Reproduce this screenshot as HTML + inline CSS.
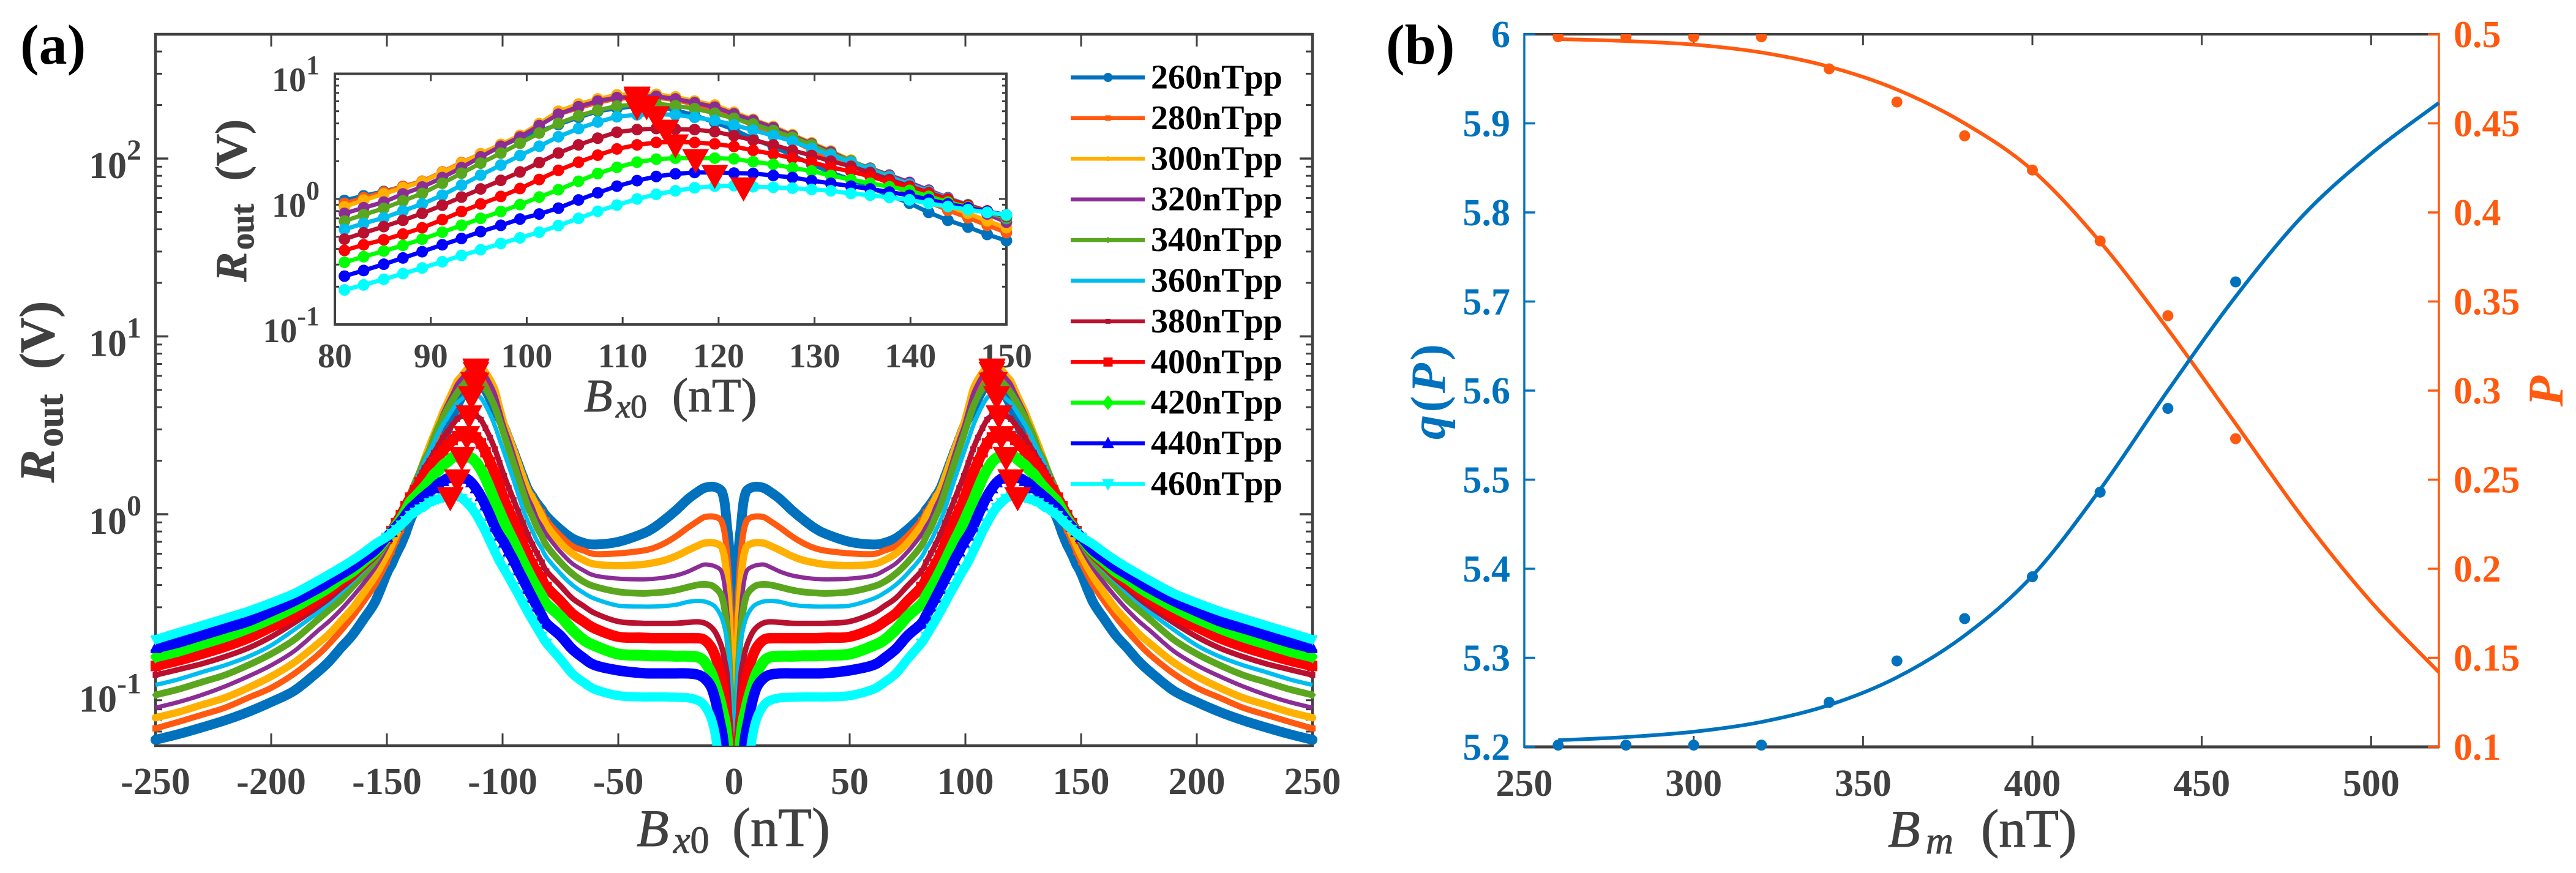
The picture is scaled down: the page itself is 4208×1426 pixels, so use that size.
<!DOCTYPE html>
<html lang="en">
<head>
<meta charset="utf-8">
<title>Rout versus Bx0 and q(P), P versus Bm</title>
<style>
html,body{margin:0;padding:0;background:#fff;width:4208px;height:1426px;overflow:hidden;}
svg{display:block;font-family:"Liberation Serif",serif;overflow:hidden;}
.tick{font-weight:bold;fill:#404040;}
.cm{fill:#404040;stroke:#404040;stroke-width:1;}
.it{font-style:italic;}
</style>
</head>
<body>
<svg id="fig" xmlns="http://www.w3.org/2000/svg" width="4208" height="1426" viewBox="0 0 4208 1426">
<defs>
<clipPath id="clipMain"><rect x="246" y="56" width="1906" height="1162"/></clipPath>
<clipPath id="clipTopB"><rect x="2480" y="56" width="1510" height="1180"/></clipPath>
</defs>
<rect width="4208" height="1426" fill="#fff"/>
<g id="layerAxes"></g>
<g id="layerInset"></g>
<g id="layerMain" clip-path="url(#clipMain)"></g>
<g id="layerPeaks"></g>
<g id="layerLegend"></g>
<g id="layerB"></g>

<text x="33" y="104" font-size="92" font-weight="bold" fill="#000">(a)</text>
<text x="2264" y="104" font-size="92" font-weight="bold" fill="#000">(b)</text>

<text transform="translate(88,788) rotate(-90)" class="cm" font-size="80" font-weight="bold"><tspan x="0" class="it">R</tspan><tspan x="58" dy="14" font-size="62">out</tspan><tspan x="185" dy="-14">(V)</tspan></text>
<text class="cm" y="1382" font-size="86"><tspan x="1040" class="it">B</tspan><tspan x="1100" dy="11" font-size="62" class="it">x</tspan><tspan dy="0" font-size="62">0</tspan><tspan x="1196" dy="-11" font-size="90">(nT)</tspan></text>

<text transform="translate(402,460) rotate(-90)" class="cm" font-size="72" font-weight="bold"><tspan x="0" class="it">R</tspan><tspan x="52" dy="12" font-size="54">out</tspan><tspan x="165" dy="-12">(V)</tspan></text>
<text class="cm" y="672" font-size="76"><tspan x="954" class="it">B</tspan><tspan x="1006" dy="10" font-size="54" class="it">x</tspan><tspan dy="0" font-size="54">0</tspan><tspan x="1098" dy="-10" font-size="78">(nT)</tspan></text>

<text class="cm" y="1383" font-size="86"><tspan x="3084" class="it">B</tspan><tspan x="3146" dy="11" font-size="62" class="it">m</tspan><tspan x="3236" dy="-11" font-size="88">(nT)</tspan></text>
<text transform="translate(2360,718) rotate(-90)" fill="#0072BD" font-size="80" font-weight="bold" textLength="156"><tspan class="it">q</tspan>(<tspan class="it">P</tspan>)</text>
<text transform="translate(4186,664) rotate(-90)" fill="#FF5A0F" font-size="82" font-weight="bold" class="it">P</text>
</svg>

<script>
// ---------- Panel (a) data: log10 of Rout (V), positive half of the B axis ----------
const xGridNT = [0,1,2,3,4,5,6,8,10,13,16,20,25,30,35,40,50,60,65,70,75,
81,83,85.1,87.1,89.1,91.2,93.2,95.2,97.3,99.3,101.3,103.3,105.4,107.4,109.4,111.5,113.5,115.5,117.5,119.6,121.6,123.6,125.7,127.7,129.7,131.7,133.8,135.8,137.8,139.9,141.9,143.9,146,148,150,
155,160,165,170,175,180,190,200,210,220,230,240,250];
const logR260 = [-2.705,-.506,-.203,-.068,.060,.119,.139,.152,.155,.147,.123,.084,.023,-.031,-.079,-.112,-.155,-.170,-.161,-.135,-.086,
-.012,.025,.06,.1,.141,.21,.28,.35,.42,.488,.54,.593,.650,.699,.723,.740,.740,.707,.667,.610,.553,.480,.415,.349,.276,.211,.154,.09,.03,-.034,-.107,-.17,-.224,-.283,-.332,
-.490,-.589,-.681,-.753,-.828,-.888,-.992,-1.056,-1.112,-1.159,-1.199,-1.236,-1.268];
const logR280 = [-2.8,-.729,-.410,-.219,-.108,-.052,-.028,-.015,-.012,-.017,-.041,-.076,-.124,-.163,-.191,-.206,-.220,-.224,-.204,-.178,-.121,
-.035,.01,.055,.1,.141,.215,.29,.36,.43,.502,.59,.675,.723,.769,.797,.808,.808,.788,.753,.707,.650,.585,.520,.463,.390,.325,.268,.2,.12,.044,-.025,-.09,-.15,-.21,-.268,
-.394,-.490,-.578,-.657,-.729,-.793,-.896,-.976,-1.032,-1.088,-1.128,-1.167,-1.204];
const logR300 = [-2.9,-.920,-.586,-.379,-.251,-.195,-.175,-.163,-.159,-.163,-.179,-.203,-.235,-.259,-.273,-.283,-.289,-.281,-.258,-.220,-.161,
-.062,-.01,.04,.09,.137,.21,.285,.36,.435,.507,.6,.699,.756,.797,.829,.834,.834,.813,.780,.748,.691,.634,.577,.512,.447,.382,.309,.235,.155,.078,.01,-.055,-.115,-.175,-.229,
-.347,-.442,-.530,-.602,-.673,-.729,-.833,-.912,-.976,-1.032,-1.072,-1.112,-1.144];
const logR320 = [-3,-1.048,-.729,-.538,-.410,-.339,-.310,-.294,-.286,-.283,-.299,-.323,-.344,-.356,-.363,-.366,-.362,-.345,-.316,-.276,-.212,
-.115,-.07,-.025,.04,.095,.17,.25,.335,.42,.493,.585,.675,.735,.780,.808,.813,.818,.797,.767,.732,.678,.626,.569,.504,.439,.374,.301,.245,.19,.132,.07,.01,-.05,-.12,-.185,
-.299,-.387,-.466,-.538,-.602,-.657,-.769,-.849,-.912,-.968,-1.016,-1.056,-1.088];
const logR340 = [-3,-1.128,-.841,-.649,-.538,-.474,-.442,-.414,-.399,-.394,-.398,-.410,-.426,-.437,-.442,-.445,-.436,-.407,-.379,-.333,-.270,
-.176,-.125,-.075,-.015,.044,.125,.205,.285,.365,.444,.525,.602,.662,.707,.740,.753,.759,.743,.720,.683,.642,.597,.545,.493,.431,.358,.304,.24,.18,.117,.06,0,-.05,-.105,-.156,
-.259,-.339,-.410,-.482,-.538,-.594,-.705,-.785,-.849,-.904,-.944,-.984,-1.016];
const logR360 = [-3,-1.112,-.809,-.713,-.641,-.594,-.562,-.522,-.503,-.490,-.487,-.493,-.509,-.516,-.519,-.519,-.514,-.476,-.442,-.396,-.333,
-.242,-.195,-.15,-.095,-.04,.03,.11,.19,.27,.346,.42,.496,.561,.613,.655,.671,.675,.671,.650,.626,.590,.548,.505,.460,.402,.349,.293,.235,.175,.117,.06,.005,-.045,-.098,-.146,
-.243,-.315,-.379,-.442,-.498,-.554,-.649,-.737,-.801,-.849,-.888,-.928,-.960];
const logR380 = [-3,-1.303,-1.112,-.904,-.825,-.761,-.721,-.665,-.633,-.610,-.605,-.608,-.613,-.614,-.614,-.613,-.603,-.557,-.516,-.471,-.402,
-.32,-.27,-.22,-.17,-.115,-.05,.015,.08,.148,.215,.29,.366,.431,.484,.532,.553,.561,.556,.553,.536,.504,.468,.431,.387,.346,.301,.260,.21,.155,.102,.05,0,-.05,-.097,-.141,
-.227,-.299,-.363,-.418,-.474,-.522,-.610,-.689,-.753,-.801,-.841,-.873,-.904];
const logR400 = [-3.1,-1.398,-1.303,-1.143,-1.032,-.952,-.888,-.801,-.745,-.705,-.697,-.697,-.697,-.697,-.697,-.694,-.689,-.643,-.603,-.557,-.488,
-.41,-.365,-.325,-.28,-.23,-.165,-.10,-.04,.02,.083,.155,.228,.293,.349,.398,.431,.450,.455,.450,.439,.418,.387,.358,.325,.293,.252,.219,.18,.135,.093,.045,-.005,-.05,-.095,-.137,
-.219,-.283,-.339,-.387,-.434,-.482,-.570,-.634,-.697,-.745,-.785,-.822,-.853];
const logR420 = [-3.1,-1.669,-1.398,-1.255,-1.159,-1.104,-1.048,-.960,-.888,-.825,-.802,-.798,-.798,-.796,-.796,-.793,-.786,-.740,-.706,-.648,-.574,
-.505,-.46,-.415,-.37,-.32,-.265,-.21,-.155,-.10,-.045,.015,.073,.141,.203,.252,.293,.317,.325,.325,.325,.320,.297,.276,.247,.223,.187,.154,.125,.097,.068,.02,-.025,-.065,-.1,-.132,
-.211,-.267,-.323,-.363,-.410,-.450,-.522,-.586,-.641,-.689,-.729,-.769,-.801];
const logR440 = [-3.2,-1.908,-1.669,-1.478,-1.351,-1.239,-1.175,-1.048,-.968,-.920,-.901,-.895,-.895,-.895,-.895,-.893,-.878,-.849,-.809,-.757,-.683,
-.615,-.57,-.52,-.47,-.42,-.365,-.315,-.26,-.21,-.16,-.12,-.073,-.008,.049,.102,.146,.179,.200,.211,.211,.206,.203,.187,.171,.146,.125,.102,.08,.055,.029,-.005,-.04,-.07,-.1,-.127,
-.200,-.251,-.299,-.339,-.379,-.418,-.487,-.546,-.602,-.641,-.681,-.721,-.753];
const logR460 = [-3.3,-2.227,-1.988,-1.781,-1.622,-1.526,-1.430,-1.247,-1.143,-1.072,-1.045,-1.032,-1.029,-1.027,-1.027,-1.027,-1.020,-.985,-.945,-.895,-.815,
-.725,-.685,-.64,-.595,-.55,-.50,-.45,-.405,-.355,-.31,-.265,-.212,-.155,-.098,-.049,0,.037,.065,.089,.102,.106,.097,.093,.086,.076,.065,.044,.03,.012,-.007,-.035,-.06,-.085,-.107,-.127,
-.167,-.215,-.260,-.300,-.338,-.375,-.445,-.498,-.546,-.586,-.626,-.665,-.705];
const seriesLabels = ['260nTpp','280nTpp','300nTpp','320nTpp','340nTpp','360nTpp','380nTpp','400nTpp','420nTpp','440nTpp','460nTpp'];
const peakB = [111.5,111.5,111.5,111.5,112.5,113.5,114.5,115.5,117.6,119.6,122.6];
const peakLogR = [.75,.81,.829,.824,.753,.673,.566,.449,.332,.206,.106];
const mainXTicks = [-250,-200,-150,-100,-50,0,50,100,150,200,250];
const mainYExponents = [-1,0,1,2];
const insetXTicks = [80,90,100,110,120,130,140,150];
const insetYExponents = [-1,0,1];
const minorMultipliers = [2,3,4,5,6,7,8,9];

// ---------- Panel (b) data ----------
const bmPoints = [260,280,300,320,340,360,380,400,420,440,460];
const qPoints = [5.202,5.202,5.202,5.202,5.25,5.2965,5.344,5.391,5.486,5.58,5.722];
const pPoints = [.4986,.4986,.4986,.4986,.4806,.462,.443,.4238,.384,.342,.273];
const bmFit = [260,280,300,320,340,360,380,400,420,440,460,480,500,520];
const qFit = [5.2075,5.211,5.217,5.228,5.247,5.278,5.325,5.392,5.489,5.6,5.7055,5.797,5.866,5.923];
const pFit = [.4973,.4962,.4942,.4898,.4818,.469,.45,.4237,.3835,.3344,.2814,.2282,.1814,.1419];
const bXTicks = [250,300,350,400,450,500];
const qTicks = [5.2,5.3,5.4,5.5,5.6,5.7,5.8,5.9,6];
const qTickLabels = ['5.2','5.3','5.4','5.5','5.6','5.7','5.8','5.9','6'];
const pTicks = [.1,.15,.2,.25,.3,.35,.4,.45,.5];
const pTickLabels = ['0.1','0.15','0.2','0.25','0.3','0.35','0.4','0.45','0.5'];

// ---------- Styles ----------
const seriesValues = [logR260,logR280,logR300,logR320,logR340,logR360,logR380,logR400,logR420,logR440,logR460];
const seriesColors = ['#0072BD','#FF5A10','#FFB000','#8C2D96','#5AA61E','#00BDF0','#B8102E','#FF0000','#00FF00','#0000FF','#00FFFF'];
const mainWidths = [16,10,12,7,11,7,9,17,18,17,15];
const markerKinds = ['circle','square','circle','none','diamond','none','square','square','diamond','up','down'];
const legendMarkerSizes = [15,9,8,0,9,0,8,15,19,20,20];
const AXIS = '#404040', BLUE = '#0072BD', ORANGE = '#FF5A0F', NS = 'http://www.w3.org/2000/svg';

// ---------- Axis functions ----------
const xMain = b => 1199 + 3.78 * b;
const yMain = lg => 840 - 290.5 * Math.max(lg, -1.5);
const xInset = b => 547 + (b - 80) * (1097 / 70);
const yInset = lg => 325 - 205 * lg;
const xB = b => 2490 + (b - 250) * (1494 / 270);
const yQ = q => 1220 - (q - 5.2) * 1455;
const yP = p => 1220 - (p - .1) * 2910;

function mk(tag, attrs, parent) {
  const n = document.createElementNS(NS, tag);
  for (const k in attrs) n.setAttribute(k, attrs[k]);
  parent.appendChild(n);
  return n;
}
function seg(parent, x1, y1, x2, y2, color, w, name) {
  const el = mk('line', {x1, y1, x2, y2, stroke: color, 'stroke-width': w}, parent);
  
  
  return el;
}
function label(parent, str, x, y, size, anchor, fill, name) {
  const el = mk('text', {x, y, 'font-size': size, 'text-anchor': anchor, 'font-weight': 'bold', fill}, parent);
  el.textContent = str;
  
  
  return el;
}
function powerLabel(parent, exp, x, y, size, supSize, supRise, name) {
  const el = mk('text', {x, y, 'font-size': size, 'text-anchor': 'end', 'font-weight': 'bold', fill: AXIS}, parent);
  const base = mk('tspan', {}, el);
  base.textContent = '10';
  const sup = mk('tspan', {dy: -supRise, 'font-size': supSize}, el);
  sup.textContent = String(exp);
  
  
  return el;
}
function marker(parent, kind, cx, cy, s, color) {
  const h = s / 2;
  if (kind === 'circle') return mk('circle', {cx, cy, r: h, fill: color}, parent);
  if (kind === 'square') return mk('rect', {x: cx - h, y: cy - h, width: s, height: s, fill: color}, parent);
  const pts = kind === 'diamond' ? [[cx, cy - h * 1.25], [cx + h, cy], [cx, cy + h * 1.25], [cx - h, cy]]
    : kind === 'up' ? [[cx, cy - h * 1.1], [cx + h, cy + h * .8], [cx - h, cy + h * .8]]
    : [[cx, cy + h * 1.1], [cx + h, cy - h * .8], [cx - h, cy - h * .8]];
  return mk('polygon', {points: pts.map(p => p.join(',')).join(' '), fill: color}, parent);
}
function peakTriangle(parent, x, y) {
  const el = mk('polygon', {points: [[x - 22, y - 13.5], [x + 22, y - 13.5], [x, y + 26]].map(p => p.join(',')).join(' '), fill: '#FF0000'}, parent);
  
  
  return el;
}
function smoothPath(xs, ys) {
  let d = 'M' + xs[0] + ' ' + ys[0];
  for (let i = 0; i < xs.length - 1; i++) {
    const a = Math.max(i - 1, 0), b = Math.min(i + 2, xs.length - 1);
    d += ' C' + (xs[i] + (xs[i + 1] - xs[a]) / 6) + ' ' + (ys[i] + (ys[i + 1] - ys[a]) / 6) + ' ' +
      (xs[i + 1] - (xs[b] - xs[i]) / 6) + ' ' + (ys[i + 1] - (ys[b] - ys[i]) / 6) + ' ' + xs[i + 1] + ' ' + ys[i + 1];
  }
  return d;
}

const axes = document.getElementById('layerAxes');
const inset = document.getElementById('layerInset');
const mainG = document.getElementById('layerMain');
const peaksG = document.getElementById('layerPeaks');
const legendG = document.getElementById('layerLegend');
const panelB = document.getElementById('layerB');

// ---------- Main axes ----------
const frame = mk('rect', {x: 254, y: 56, width: 1890, height: 1162, fill: 'none', stroke: AXIS, 'stroke-width': 4.5}, axes);


mainXTicks.forEach(t => {
  seg(axes, xMain(t), 1218, xMain(t), 1198, AXIS, 3, 'main-x-tick');
  seg(axes, xMain(t), 56, xMain(t), 76, AXIS, 3, 'main-x-tick-top');
  label(axes, String(t), xMain(t), 1297, 62, 'middle', AXIS, 'main-x-tick-label');
});
mainYExponents.forEach(e => {
  seg(axes, 254, yMain(e), 275, yMain(e), AXIS, 3.5, 'main-y-tick');
  seg(axes, 2144, yMain(e), 2123, yMain(e), AXIS, 3.5, 'main-y-tick-right');
  powerLabel(axes, e, 231, yMain(e) + 32, 62, 48, 30, 'main-y-tick-label');
});
[-2, -1, 0, 1, 2].forEach(e => {
  minorMultipliers.forEach(m => {
    const lg = e + Math.log10(m);
    if (lg < Math.log10(.05) || lg > Math.log10(500)) return;
    seg(axes, 254, yMain(lg), 265, yMain(lg), AXIS, 3, 'main-y-minor-tick');
    seg(axes, 2144, yMain(lg), 2133, yMain(lg), AXIS, 3, 'main-y-minor-tick-right');
  });
});

// ---------- Inset axes ----------
const insetFrame = mk('rect', {x: 547, y: 120.5, width: 1097, height: 409.5, fill: 'none', stroke: AXIS, 'stroke-width': 4}, inset);


insetXTicks.forEach(t => {
  seg(inset, xInset(t), 530, xInset(t), 518, AXIS, 3, 'inset-x-tick');
  seg(inset, xInset(t), 120.5, xInset(t), 132.5, AXIS, 3, 'inset-x-tick-top');
  label(inset, String(t), xInset(t), 600, 56, 'middle', AXIS, 'inset-x-tick-label');
});
insetYExponents.forEach(e => {
  seg(inset, 547, yInset(e), 559, yInset(e), AXIS, 3, 'inset-y-tick');
  seg(inset, 1644, yInset(e), 1632, yInset(e), AXIS, 3, 'inset-y-tick-right');
  powerLabel(inset, e, 522, yInset(e) + 29, 56, 44, 28, 'inset-y-tick-label');
});
[-1, 0].forEach(e => {
  minorMultipliers.forEach(m => {
    const lg = e + Math.log10(m);
    seg(inset, 547, yInset(lg), 554, yInset(lg), AXIS, 3, 'inset-y-minor-tick');
    seg(inset, 1644, yInset(lg), 1637, yInset(lg), AXIS, 3, 'inset-y-minor-tick-right');
  });
});

// ---------- Series: inset and main ----------
seriesValues.forEach((vals, s) => {
  const color = seriesColors[s];
  const gi = mk('g', {}, inset);
  
  
  const pts = [];
  xGridNT.forEach((b, i) => {
    if (b < 80 || b > 150) return;
    const px = xInset(b), py = yInset(vals[i]);
    pts.push(px + ',' + py);
    const dot = mk('circle', {cx: px, cy: py, r: 9.5, fill: color}, gi);
    
    
  });
  const line = mk('polyline', {points: pts.join(' '), fill: 'none', stroke: color, 'stroke-width': 7, 'stroke-linejoin': 'round'}, gi);
  
  

  const gm = mk('g', {}, mainG);
  
  
  const mx = [], my = [];
  for (let i = xGridNT.length - 1; i > 0; i--) { mx.push(xMain(-xGridNT[i])); my.push(yMain(vals[i])); }
  xGridNT.forEach((b, i) => { mx.push(xMain(b)); my.push(yMain(vals[i])); });
  const mline = mk('path', {d: smoothPath(mx, my), fill: 'none', stroke: color, 'stroke-width': mainWidths[s], 'stroke-linejoin': 'round'}, gm);
  
  
  if (markerKinds[s] !== 'none') {
    const tri = markerKinds[s] === 'up' || markerKinds[s] === 'down';
    const sz = mainWidths[s] * (tri ? 1.2 : 1.02);
    xGridNT.forEach((b, i) => {
      if (!((b >= 80 && b <= 150) || b === 250)) return;
      [b, -b].forEach(sb => {
        const m = marker(gm, markerKinds[s], xMain(sb), yMain(vals[i]), sz, color);
        
        
      });
    });
  }
});

// ---------- Peak markers ----------
peakB.forEach((b, i) => {
  peakTriangle(peaksG, xMain(b), yMain(peakLogR[i]));
  peakTriangle(peaksG, xMain(-b), yMain(peakLogR[i]));
  peakTriangle(peaksG, xInset(b), yInset(peakLogR[i]));
});

// ---------- Legend ----------
seriesLabels.forEach((name, i) => {
  const y = 126.5 + i * 66.4;
  const entry = mk('g', {}, legendG);
  
  
  seg(entry, 1749, y, 1870, y, seriesColors[i], 6.5, 'legend-line');
  if (markerKinds[i] !== 'none') {
    const m = marker(entry, markerKinds[i], 1810, y, legendMarkerSizes[i], seriesColors[i]);
    
    
  }
  label(entry, name, 1880, y + 18, 56, 'start', '#000', 'legend-label');
});

// ---------- Panel (b) axes ----------
seg(panelB, 2490, 56, 3984, 56, AXIS, 4, 'panel-b-top-axis');
seg(panelB, 2490, 1220, 3984, 1220, AXIS, 5, 'panel-b-bottom-axis');
seg(panelB, 2490, 54, 2490, 1222, BLUE, 3.5, 'panel-b-left-axis');
seg(panelB, 3984, 54, 3984, 1222, ORANGE, 3.5, 'panel-b-right-axis');
bXTicks.forEach(t => {
  if (t > 250) {
    seg(panelB, xB(t), 1220, xB(t), 1202, AXIS, 3, 'panel-b-x-tick');
    seg(panelB, xB(t), 56, xB(t), 74, AXIS, 3, 'panel-b-x-tick-top');
  }
  label(panelB, String(t), xB(t), 1300, 62, 'middle', AXIS, 'panel-b-x-tick-label');
});
qTicks.forEach((t, i) => {
  seg(panelB, 2490, yQ(t), 2508, yQ(t), BLUE, 3.5, 'q-axis-tick');
  label(panelB, qTickLabels[i], 2467, yQ(t) + 21, 62, 'end', BLUE, 'q-axis-tick-label');
});
pTicks.forEach((t, i) => {
  seg(panelB, 3984, yP(t), 3966, yP(t), ORANGE, 3.5, 'p-axis-tick');
  label(panelB, pTickLabels[i], 4008, yP(t) + 21, 62, 'start', ORANGE, 'p-axis-tick-label');
});

// ---------- Panel (b) series ----------
const pGroup = mk('g', {'clip-path': 'url(#clipTopB)'}, panelB);


const qGroup = mk('g', {}, panelB);


const qCurve = mk('path', {d: smoothPath(bmFit.map(xB), qFit.map(yQ)), fill: 'none', stroke: BLUE, 'stroke-width': 6}, qGroup);


const pCurve = mk('path', {d: smoothPath(bmFit.map(xB), pFit.map(yP)), fill: 'none', stroke: ORANGE, 'stroke-width': 6}, pGroup);


bmPoints.forEach((b, i) => {
  const q = mk('circle', {cx: xB(b), cy: yQ(qPoints[i]), r: 9, fill: BLUE}, qGroup);
  
  
  const p = mk('circle', {cx: xB(b), cy: yP(pPoints[i]), r: 9, fill: ORANGE}, pGroup);
  
  
});
</script>
</body>
</html>
